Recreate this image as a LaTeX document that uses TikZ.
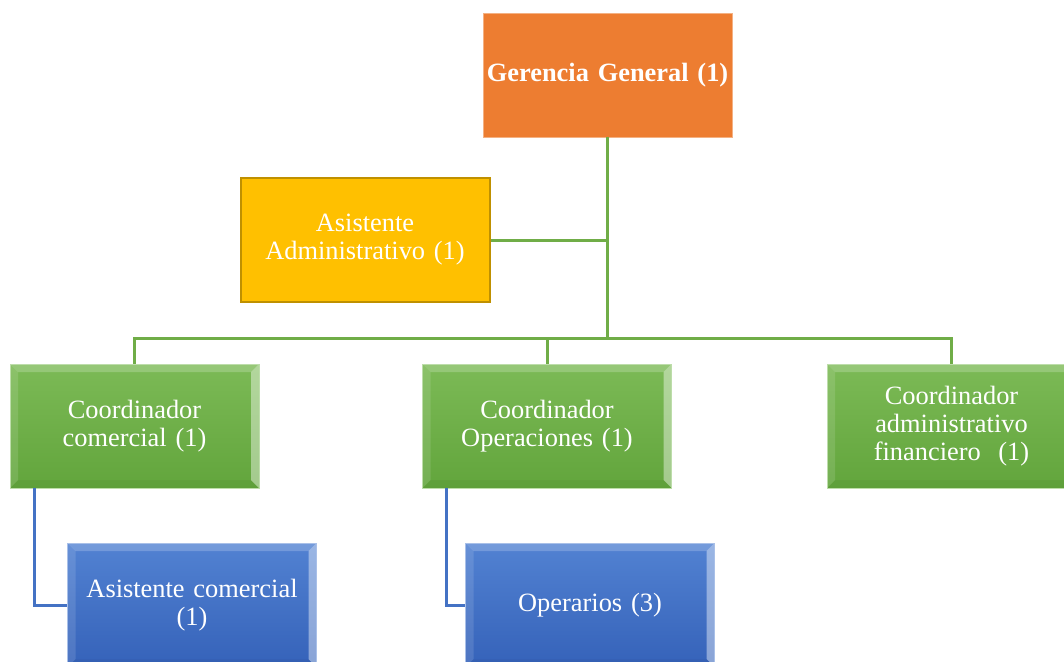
\documentclass[tikz,border=0pt]{standalone}
\usepackage{fontspec}
\setmainfont{Liberation Serif}
\definecolor{orangeG}{HTML}{ED7D31}
\definecolor{goldA}{HTML}{FFC000}
\definecolor{goldB}{HTML}{BF9000}
\definecolor{grTop}{HTML}{7CBA56}
\definecolor{grBot}{HTML}{62A53C}
\definecolor{grLine}{HTML}{70AD47}
\definecolor{blTop}{HTML}{5282D2}
\definecolor{blBot}{HTML}{3562B9}
\definecolor{blLine}{HTML}{4472C4}
\tikzset{
  boxbase/.style={minimum width=249pt, minimum height=124pt, inner sep=0pt,
    text width=235pt, align=center, text=white,
    font=\fontsize{26.4}{28}\selectfont},
  bevel/.style={path picture={
    \fill[white,opacity=0.2] (path picture bounding box.north west) -- (path picture bounding box.north east)
       -- ([xshift=-8pt,yshift=-8pt]path picture bounding box.north east) -- ([xshift=8pt,yshift=-8pt]path picture bounding box.north west) -- cycle;
    \fill[white,opacity=0.12] (path picture bounding box.north west) -- ([xshift=8pt,yshift=-8pt]path picture bounding box.north west)
       -- ([xshift=8pt,yshift=8pt]path picture bounding box.south west) -- (path picture bounding box.south west) -- cycle;
    \fill[white,opacity=0.42] (path picture bounding box.north east) -- ([xshift=-8pt,yshift=-8pt]path picture bounding box.north east)
       -- ([xshift=-8pt,yshift=8pt]path picture bounding box.south east) -- (path picture bounding box.south east) -- cycle;
    \fill[black,opacity=0.03] (path picture bounding box.south west) -- ([xshift=8pt,yshift=8pt]path picture bounding box.south west)
       -- ([xshift=-8pt,yshift=8pt]path picture bounding box.south east) -- (path picture bounding box.south east) -- cycle;
  }},
  greenbox/.style={boxbase, top color=grTop, bottom color=grBot, draw=grTop!50!white, line width=0.8pt, bevel},
  bluebox/.style={boxbase, top color=blTop, bottom color=blBot, draw=blTop!50!white, line width=0.8pt, bevel},
  orangebox/.style={boxbase, text width=248pt, fill=orangeG, draw=orangeG!60!white, line width=0.6pt, font=\fontsize{26.4}{28}\selectfont\bfseries},
  goldbox/.style={boxbase, fill=goldA, draw=goldB, line width=2pt},
  gline/.style={draw=grLine, line width=3pt},
  bline/.style={draw=blLine, line width=3pt}
}
\begin{document}
\begin{tikzpicture}[x=1pt,y=-1pt]
\useasboundingbox (0,0) rectangle (1064,661);
\clip (0,0) rectangle (1064,661);
\fill[white] (0,0) rectangle (1064,661);
\coordinate (j) at (607.5,338);
\node[orangebox] (gg) at (607.5,75) {Gerencia General (1)};
\node[goldbox] (aa) at (365,240) {Asistente\\Administrativo (1)};
\node[greenbox] (cc) at (134.5,426) {Coordinador\\comercial (1)};
\node[greenbox] (co) at (547,426) {Coordinador\\Operaciones (1)};
\node[greenbox] (cf) at (951.5,426) {Coordinador\\administrativo\\financiero\ \ (1)};
\node[bluebox] (ac) at (192,605) {Asistente comercial\\(1)};
\node[bluebox] (op) at (590,605) {Operarios (3)};
\draw[gline] (gg.south) -- (j);
\draw[gline] (aa.east) -- (aa.east -| gg.south);
\draw[gline] (cc.north) |- (j) -| (cf.north);
\draw[gline] (co.north) -- (co.north |- j);
\draw[bline] ([xshift=25pt]cc.south west) |- (ac.west);
\draw[bline] ([xshift=24pt]co.south west) |- (op.west);
\end{tikzpicture}
\end{document}
